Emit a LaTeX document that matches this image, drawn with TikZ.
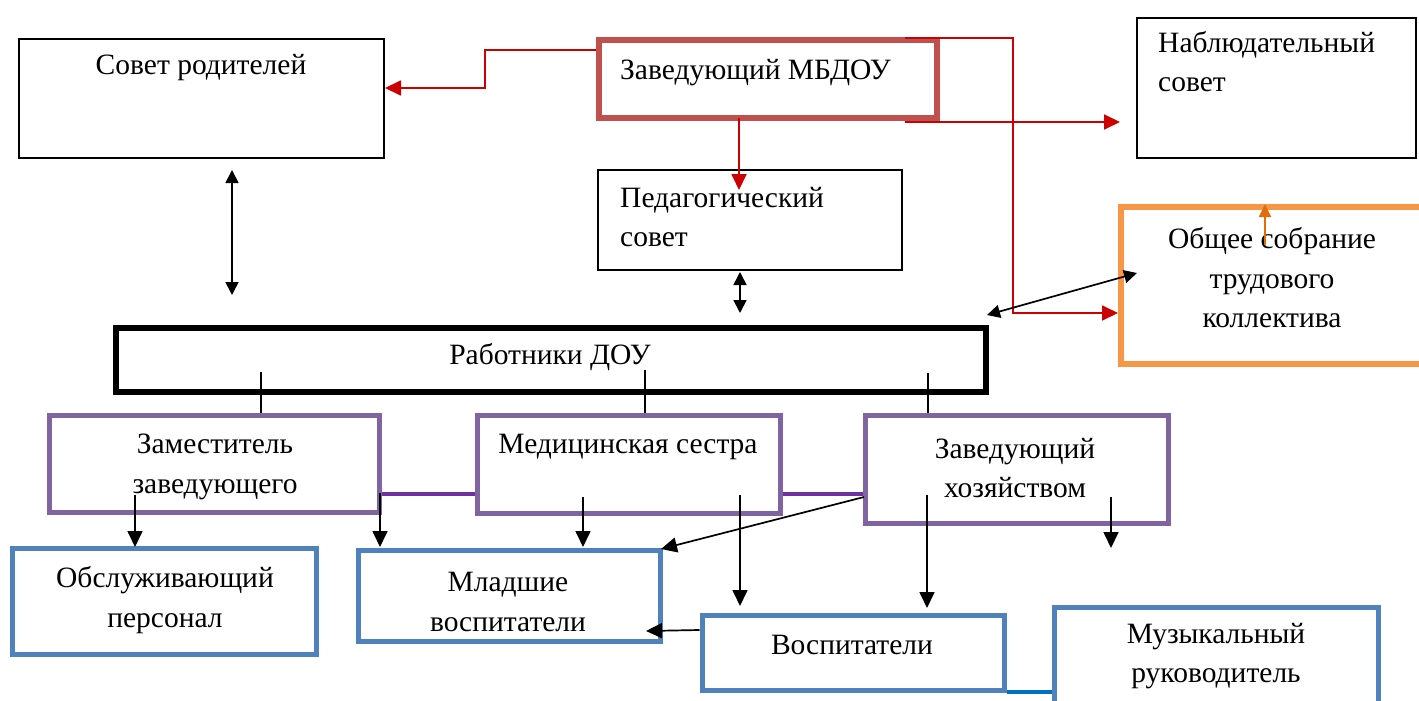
\documentclass[tikz,border=0pt]{standalone}
\usepackage{fontspec}
\setmainfont{Liberation Serif}
\usetikzlibrary{arrows.meta}
\definecolor{zavred}{HTML}{C0504D}
\definecolor{arrred}{HTML}{CC0000}
\definecolor{boxviolet}{HTML}{8064A2}
\definecolor{lineviolet}{HTML}{7030A0}
\definecolor{boxblue}{HTML}{4F81BD}
\definecolor{lineblue}{HTML}{0070C0}
\definecolor{boxorange}{HTML}{F79646}
\definecolor{arrorange}{HTML}{E36C09}
\begin{document}
\begin{tikzpicture}[x=1pt,y=-1pt,
  font=\fontsize{29.5}{39.5}\selectfont,
  box/.style={draw,inner sep=0pt},
  thinbox/.style={box,line width=2pt},
  redbox/.style={box,draw=zavred,line width=6pt},
  boldbox/.style={box,line width=6.5pt},
  violetbox/.style={box,draw=boxviolet,line width=5pt},
  bluebox/.style={box,draw=boxblue,line width=5pt},
  orangebox/.style={box,draw=boxorange,line width=6pt},
  txt/.style={align=center,inner sep=0pt},
  ltxt/.style={align=left,inner sep=0pt,anchor=west},
  redarr/.style={draw=arrred,line width=1.8pt,-{Triangle[length=16pt,width=15pt]}},
  arr/.style={line width=1.7pt,-{Triangle[length=16pt,width=15pt]}},
  darr/.style={line width=1.7pt,{Triangle[length=13pt,width=13pt]}-{Triangle[length=13pt,width=13pt]}},
  tie/.style={line width=1.3pt}]
\useasboundingbox (0,0) rectangle (1419,701);

\node[thinbox,minimum width=365pt,minimum height=119pt] (sovet) at (201.5,98.5) {};
\node[redbox,minimum width=338pt,minimum height=78pt] (zav) at (768,79) {};
\node[thinbox,minimum width=279pt,minimum height=140pt] (nabl) at (1276.5,88) {};
\node[thinbox,minimum width=304pt,minimum height=100pt] (ped) at (750,220) {};
\node[orangebox,minimum width=304pt,minimum height=157pt] (obsh) at (1273,285.5) {};
\node[boldbox,minimum width=870pt,minimum height=64pt] (rab) at (551,360) {};
\node[violetbox,minimum width=330pt,minimum height=97pt] (zam) at (214,463.5) {};
\node[violetbox,minimum width=303pt,minimum height=98pt] (med) at (628.5,464) {};
\node[violetbox,minimum width=303pt,minimum height=108pt] (zavh) at (1016.5,469) {};
\node[bluebox,minimum width=304pt,minimum height=106pt] (obsl) at (164,601) {};
\node[bluebox,minimum width=302pt,minimum height=91pt] (mlad) at (509,595.5) {};
\node[bluebox,minimum width=302pt,minimum height=75pt] (vosp) at (853,652.5) {};
\node[bluebox,minimum width=324pt,minimum height=105pt] (muz) at (1216,659.5) {};

\node[txt] (sovet-t) at (201,68) {Совет родителей};
\node[ltxt] (zav-t) at (620,73) {Заведующий МБДОУ};
\node[ltxt,anchor=north west] (nabl-t) at (1158,31) {Наблюдательный\\совет};
\node[ltxt,anchor=north west] (ped-t) at (620,187) {Педагогический\\совет};
\node[txt] (obsh-t) at (1272,278) {Общее собрание\\трудового\\коллектива};
\node[txt] (rab-t) at (550,357) {Работники ДОУ};
\node[txt] (zam-t) at (215,467) {Заместитель\\заведующего};
\node[txt] (med-t) at (628,447) {Медицинская сестра};
\node[txt] (zavh-t) at (1015,468) {Заведующий\\хозяйством};
\node[txt] (obsl-t) at (165,600) {Обслуживающий\\персонал};
\node[txt] (mlad-t) at (508,602) {Младшие\\воспитатели};
\node[txt] (vosp-t) at (852,645) {Воспитатели};
\node[txt] (muz-t) at (1216,656) {Музыкальный\\руководитель};

\coordinate (zav-a) at (596,50);
\coordinate (zav-b) at (905,38);
\coordinate (zav-c) at (905,122);
\coordinate (zav-d) at (739,118);
\draw[redarr] (zav-a) -- (485,50) -- (485,88) -- (sovet.east |- 0,88);
\draw[redarr] (zav-b) -- (1013,38) -- (1013,313) -- (obsh.west |- 0,313);
\draw[redarr] (zav-c) -- (1120,122);
\draw[redarr] (zav-d) -- (739,190);

\coordinate (sovet-a) at (232,170);
\coordinate (ped-a) at (740,272);
\coordinate (rab-a) at (987,315);
\draw[darr] (sovet-a) -- (232,295);
\draw[darr] (ped-a) -- (740,313);
\draw[darr] (rab-a) -- (1137,273);
\draw[arrorange,line width=1.8pt,-{Triangle[length=13pt,width=12pt]}] (1265,245) -- (obsh.north -| 1265,0);

\draw[tie] (261,372) -- (zam.north -| 261,0);
\draw[tie] (645,370) -- (med.north -| 645,0);
\draw[tie] (928,373) -- (zavh.north -| 928,0);
\draw[lineviolet,line width=4pt] (zam.east |- 0,494) -- (med.west |- 0,494);
\draw[lineviolet,line width=4pt] (med.east |- 0,494) -- (zavh.west |- 0,494);

\draw[arr] (135,495) -- (135,547);
\draw[arr] (380,493) -- (380,547);
\draw[arr] (583,497) -- (583,547);
\draw[arr] (740,495) -- (740,606);
\draw[arr] (927,495) -- (927,608);
\draw[arr] (1111,497) -- (1111,548);
\draw[arr] (864,497) -- (661,549);
\draw[arr] (vosp.west |- 0,630) -- (646,631);
\draw[lineblue,line width=4pt] (vosp.east |- 0,692) -- (muz.west |- 0,692);
\end{tikzpicture}
\end{document}
